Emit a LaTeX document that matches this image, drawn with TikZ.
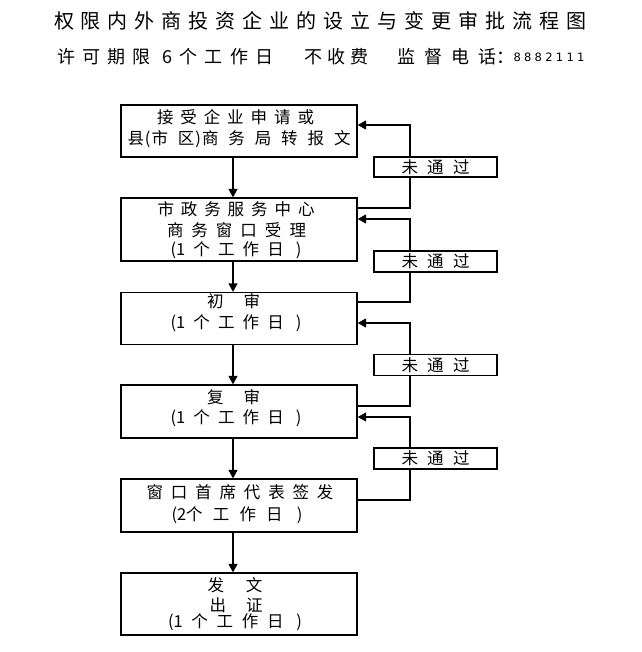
\documentclass[tikz,border=0pt]{standalone}
\usepackage{fontspec}
\setmainfont{Noto Sans CJK SC}
\newfontfamily\digitfont{DejaVu Sans}
\usetikzlibrary{arrows.meta}
\newcommand{\spr}[2]{\makebox[#1pt][s]{#2}}
\begin{document}
\begin{tikzpicture}[x=1pt,y=-1pt,
  stepbox/.style={draw,line width=1.3pt,inner sep=0pt,minimum width=236pt},
  txt/.style={inner sep=0pt,font=\fontsize{16.5}{17}\selectfont},
  ttl/.style={inner sep=0pt,font=\fontsize{20}{20}\selectfont},
  sub/.style={inner sep=0pt,font=\fontsize{18}{18}\selectfont},
  lab/.style={draw,line width=1.3pt,minimum width=123pt,inner sep=0pt,font=\fontsize{16.5}{17}\selectfont},
  conn/.style={line width=1.3pt},
  arr/.style={conn,-{Triangle[length=8.5pt,width=9pt]}}]
\useasboundingbox[fill=white] (0,0) rectangle (641,652);

% title
\node[ttl] (title) at (320,21) {\spr{532}{权 限 内 外 商 投 资 企 业 的 设 立 与 变 更 审 批 流 程 图}};
\node[sub] (s1) at (104,57) {\spr{93}{许 可 期 限}};
\node[sub] (s2) at (167.5,57) {6};
\node[sub] (s3) at (226.5,57) {\spr{94}{个 工 作 日}};
\node[sub] (s4) at (336.5,57) {\spr{64}{不 收 费}};
\node[sub] (s5) at (456,57) {\spr{117}{监 督 电 话：}};
\node[inner sep=0pt,font=\digitfont\fontsize{11.5}{12}\selectfont] (s6) at (549,57.5) {\spr{71}{8 8 8 2 1 1 1}};

% boxes
\node[stepbox,minimum height=52pt] (b1) at (239,131) {};
\node[stepbox,minimum height=63pt] (b2) at (239,229.5) {};
\node[stepbox,minimum height=52pt] (b3) at (239,318.5) {};
\node[stepbox,minimum height=53pt] (b4) at (239,411.5) {};
\node[stepbox,minimum height=53pt] (b5) at (239,505.5) {};
\node[stepbox,minimum height=62pt] (b6) at (239,604) {};

% box texts
\node[txt] (t1a) at (235.5,117) {\spr{157}{接 受 企 业 申 请 或}};
\node[txt] (t1b) at (239,139) {\spr{223}{县\hspace{1pt}(\hspace{1pt}市 区\hspace{1pt})\hspace{1pt}商 务 局 转 报 文}};
\node[txt] (t2a) at (236,209) {\spr{157}{市 政 务 服 务 中 心}};
\node[txt] (t2b) at (236.5,230) {\spr{139}{商 务 窗 口 受 理}};
\node[txt] (t2c) at (236,250) {\spr{131}{(1 个 工 作 日 \hspace{4pt})}};
\node[txt] (t3a) at (233.5,301) {\spr{53}{初 审}};
\node[txt] (t3b) at (236,323) {\spr{131}{(1 个 工 作 日 \hspace{4pt})}};
\node[txt] (t4a) at (233.5,397) {\spr{53}{复 审}};
\node[txt] (t4b) at (236,418) {\spr{131}{(1 个 工 作 日 \hspace{4pt})}};
\node[txt] (t5a) at (240,492) {\spr{187}{窗 口 首 席 代 表 签 发}};
\node[txt] (t5b) at (237,515) {\spr{131}{(2个 工 作 日 \hspace{4pt})}};
\node[txt] (t6a) at (235,585) {\spr{55}{发 文}};
\node[txt] (t6b) at (236,605) {\spr{53}{出 证}};
\node[txt] (t6c) at (235,622) {\spr{134}{(1 个 工 作 日 \hspace{4pt})}};

% labels
\node[lab,minimum height=20pt] (l1) at (435.5,167) {\spr{68}{未 通 过}};
\node[lab,minimum height=21pt] (l2) at (435.5,261.5) {\spr{68}{未 通 过}};
\node[lab,minimum height=21pt] (l3) at (435.5,365) {\spr{68}{未 通 过}};
\node[lab,minimum height=21pt] (l4) at (435.5,458.5) {\spr{68}{未 通 过}};

% main flow
\draw[arr] (b1.south -| 233,0) -- (b2.north -| 233,0);
\draw[arr] (b2.south -| 233,0) -- (b3.north -| 233,0);
\draw[arr] (b3.south -| 233,0) -- (b4.north -| 233,0);
\draw[arr] (b4.south -| 233,0) -- (b5.north -| 233,0);
\draw[arr] (b5.south -| 233,0) -- (b6.north -| 233,0);

% feedback loops
\draw[conn] (b2.east |- 0,208) -| (l1.south -| 410,0);
\draw[arr] (l1.north -| 410,0) |- (b1.east |- 0,125);
\draw[conn] (b3.east |- 0,302) -| (l2.south -| 410,0);
\draw[arr] (l2.north -| 410,0) |- (b2.east |- 0,219);
\draw[conn] (b4.east |- 0,406) -| (l3.south -| 410,0);
\draw[arr] (l3.north -| 410,0) |- (b3.east |- 0,323);
\draw[conn] (b5.east |- 0,500) -| (l4.south -| 410,0);
\draw[arr] (l4.north -| 410,0) |- (b4.east |- 0,417);
\end{tikzpicture}
\end{document}
